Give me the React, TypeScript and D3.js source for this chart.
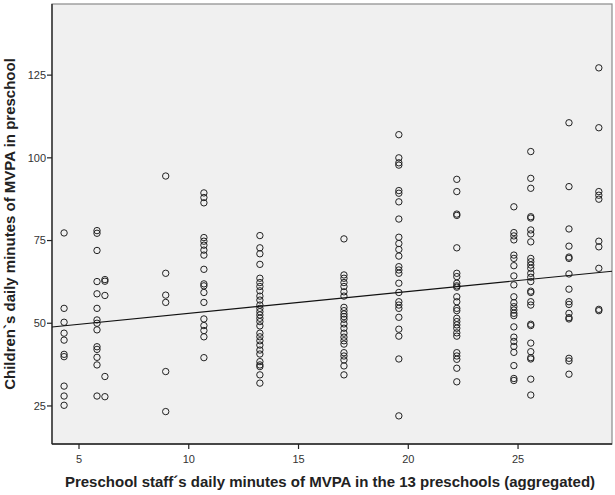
import React from 'react'
import * as d3 from 'd3'

// aggregated staff MVPA per preschool (x) and children's MVPA (y)
const schoolX = [4.32, 5.82, 6.18, 8.95, 10.69, 13.24, 17.07, 19.57, 22.21, 24.81, 25.58, 27.32, 28.68]

const school1 = [77.3, 54.5, 50.3, 47.0, 44.9, 40.6, 39.9, 31.0, 28.0, 25.2]
const school2 = [78.0, 77.2, 72.0, 62.6, 58.9, 54.5, 51.0, 50.0, 48.0, 42.9, 42.1, 39.7, 37.4, 28.0]
const school3 = [63.2, 62.7, 58.4, 33.9, 27.8]
const school4 = [94.5, 65.1, 58.5, 56.3, 35.4, 23.3]
const school5 = [89.4, 88.0, 86.4, 75.9, 74.8, 73.6, 72.1, 70.6, 66.3, 61.9, 61.3, 59.3, 56.3, 51.3, 49.3, 47.8, 45.9, 39.6]
const school6 = [76.5, 72.8, 71.0, 67.8, 63.6, 62.3, 61.1, 59.8, 58.2, 57.0, 55.5, 54.5, 53.5, 52.5, 51.5, 50.5, 49.2, 47.0, 45.9, 44.7, 43.4, 41.9, 40.7, 38.4, 37.4, 36.9, 34.4, 31.9]
const school7 = [75.5, 64.6, 63.6, 62.3, 61.1, 59.5, 58.2, 54.8, 53.8, 52.8, 52.0, 51.2, 49.8, 48.5, 47.0, 45.8, 44.7, 43.7, 41.1, 40.1, 38.9, 37.1, 34.4]
const school8 = [107.0, 100.0, 98.5, 97.8, 90.1, 89.3, 86.7, 81.5, 76.0, 74.1, 72.3, 70.3, 67.1, 66.1, 65.1, 62.1, 59.3, 56.5, 55.5, 54.5, 51.8, 48.2, 46.1, 39.2, 22.0]
const school9 = [93.5, 89.8, 83.0, 82.6, 72.8, 65.1, 64.1, 62.1, 61.3, 60.9, 58.0, 56.5, 54.5, 53.8, 51.5, 50.5, 49.5, 48.5, 47.1, 46.1, 41.1, 40.1, 39.1, 36.4, 32.3]
const school10 = [85.2, 77.4, 76.4, 75.2, 70.6, 69.6, 67.4, 64.3, 61.6, 58.0, 56.2, 55.0, 54.0, 53.0, 52.3, 48.9, 45.8, 44.5, 43.0, 41.2, 37.2, 33.3, 32.7]
const school11 = [101.9, 93.8, 90.8, 82.2, 81.8, 78.2, 77.0, 74.6, 69.6, 68.6, 67.6, 66.6, 65.1, 63.9, 62.6, 59.7, 59.3, 56.5, 55.5, 49.7, 49.3, 44.0, 41.4, 39.6, 39.2, 33.1, 28.3]
const school12 = [110.6, 91.3, 78.5, 73.3, 70.0, 69.6, 64.9, 60.3, 56.5, 55.7, 53.0, 51.7, 51.3, 39.4, 38.6, 34.6]
const school13 = [127.2, 109.1, 89.8, 88.7, 87.5, 74.8, 73.1, 66.6, 54.2, 53.8]

const schools = [school1, school2, school3, school4, school5, school6, school7, school8, school9, school10, school11, school12, school13]

const xTicks = [5, 10, 15, 20, 25]
const yTicks = [25, 50, 75, 100, 125]

// fit line
const fitIntercept = 46.4
const fitSlope = 0.66

const W = 615
const H = 495
const left = 52, right = 612, top = 4, bottom = 444

const x = d3.scaleLinear().domain([3.77, 29.28]).range([left, right])
const y = d3.scaleLinear().domain([13.5, 146.5]).range([bottom, top])

const points = schools.flatMap((vals, i) => vals.map(v => ({ sx: schoolX[i], v })))

export default function App() {
  const [x0, x1] = x.domain()
  const fit = d3.line<number>().x(d => x(d)).y(d => y(fitIntercept + fitSlope * d))([x0, x1])
  const font = '"Liberation Sans", Arial, sans-serif'

  return (
    <svg width={W} height={H} style={{ position: 'absolute', left: 0, top: 0, background: '#fff' }}>
      <rect x={left} y={top} width={right - left} height={bottom - top} fill="#f0f0f0" stroke="#8a8a8a" strokeWidth={1.2} />
      <line x1={left} x2={left} y1={top} y2={bottom} stroke="#222" strokeWidth={1.3} />
      <line x1={left} x2={right} y1={bottom} y2={bottom} stroke="#222" strokeWidth={1.3} />

      {yTicks.map(t => (
        <g key={'y' + t} transform={`translate(0,${y(t)})`}>
          <line x1={left - 5} x2={left} stroke="#222" strokeWidth={1.2} />
          <text x={left - 6} dy="0.35em" textAnchor="end" fontSize={11} fill="#333" fontFamily={font}>{t}</text>
        </g>
      ))}
      {xTicks.map(t => (
        <g key={'x' + t} transform={`translate(${x(t)},0)`}>
          <line y1={bottom} y2={bottom + 5} stroke="#222" strokeWidth={1.2} />
          <text y={bottom + 19} textAnchor="middle" fontSize={11} fill="#333" fontFamily={font}>{t}</text>
        </g>
      ))}

      {points.map((p, i) => (
        <circle key={i} cx={x(p.sx)} cy={y(p.v)} r={3.2} fill="none" stroke="#222" strokeWidth={1} />
      ))}

      <path d={fit || ''} fill="none" stroke="#111" strokeWidth={1.1} />

      <text x={(left + right) / 2 - 2} y={487} textAnchor="middle" fontSize={15} fontWeight="bold" fill="#222" fontFamily={font}>
        Preschool staff´s daily minutes of MVPA in the 13 preschools (aggregated)
      </text>
      <text transform={`translate(15,${(top + bottom) / 2}) rotate(-90)`} textAnchor="middle" fontSize={15} fontWeight="bold" fill="#222" fontFamily={font}>
        Children`s daily minutes of MVPA in preschool
      </text>
    </svg>
  )
}
